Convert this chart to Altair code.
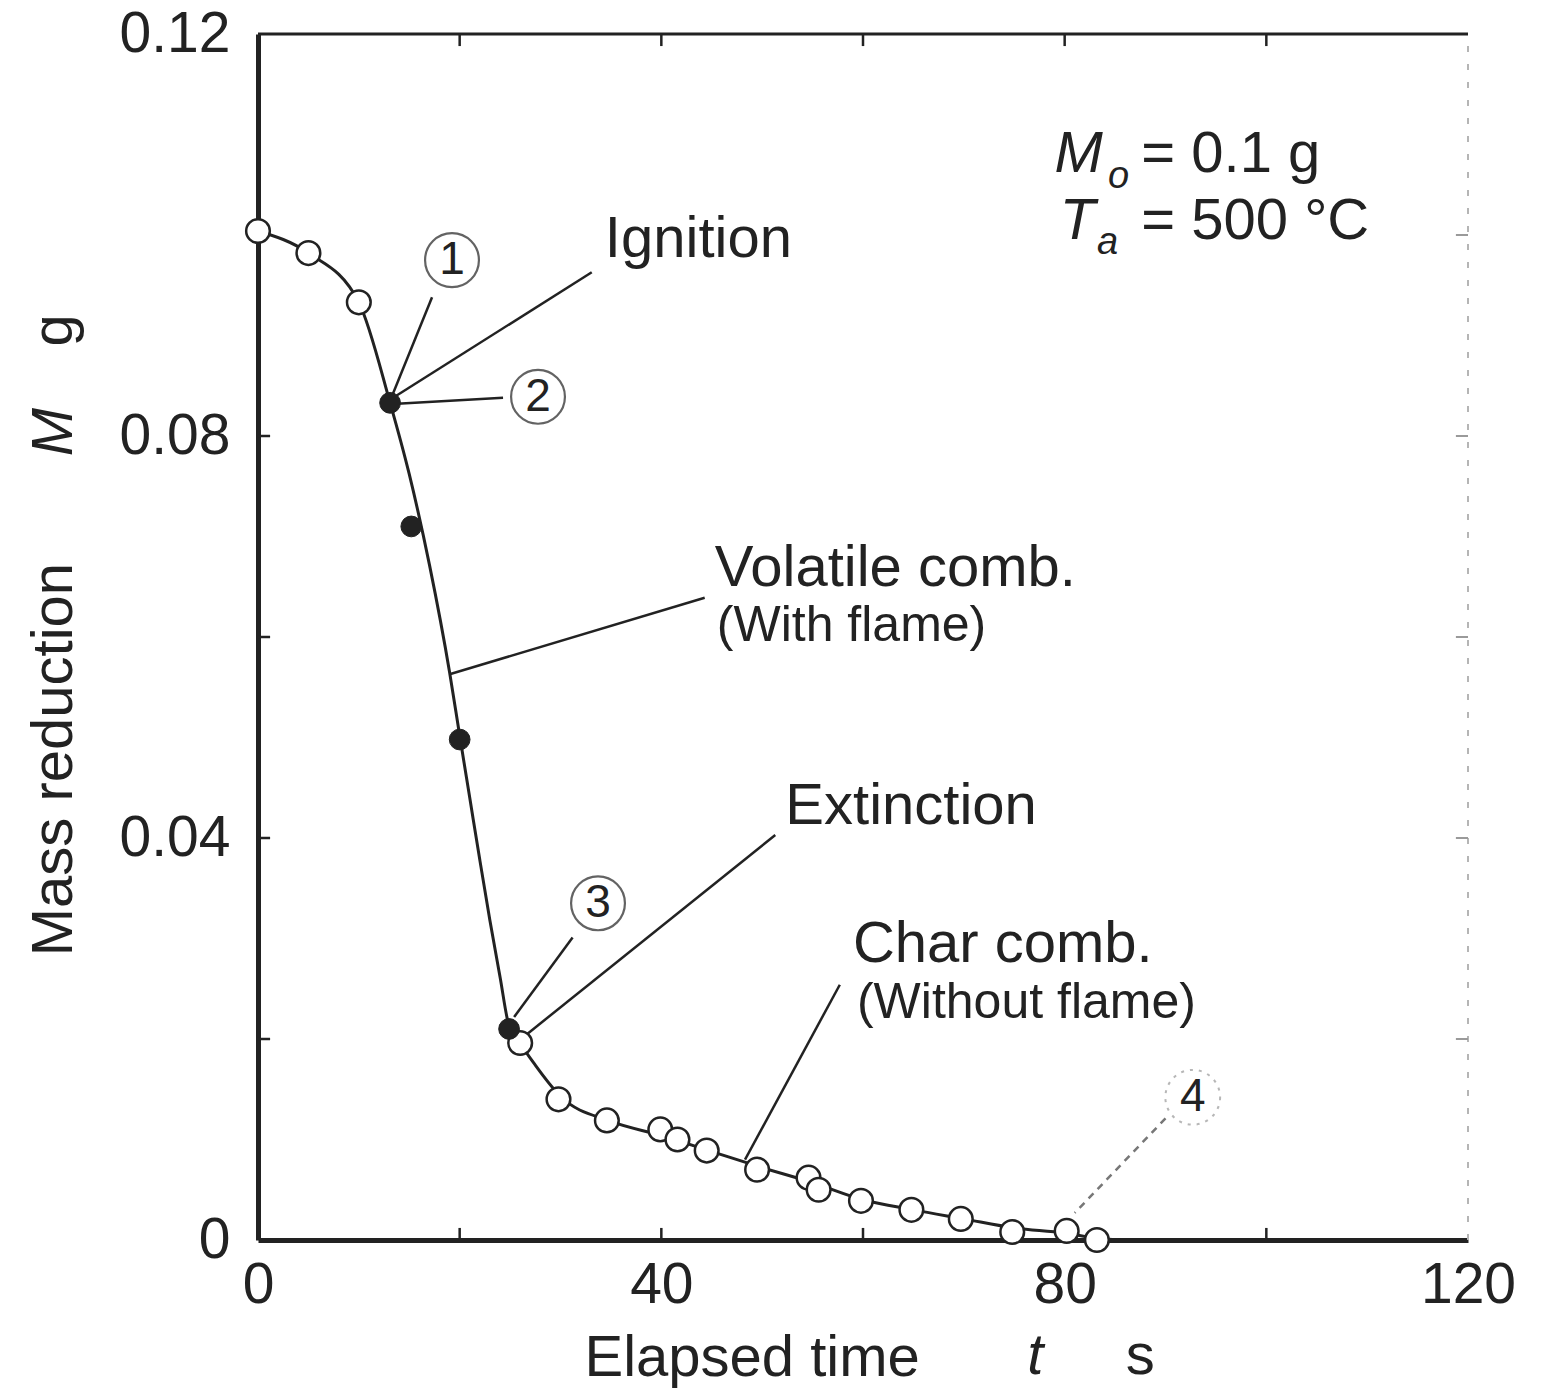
import altair as alt
import pandas as pd

FONT = "Liberation Sans"
INK = "#222222"

# Measured mass reduction M (g) against elapsed time t (s)
open_t = [0, 5, 10, 26.0, 29.8, 34.6, 39.9, 41.6, 44.5, 49.5, 54.6, 55.6,
          59.8, 64.8, 69.7, 74.8, 80.2, 83.2]
open_m = [0.1004, 0.0982, 0.0933, 0.0196, 0.0140, 0.0119, 0.0110, 0.0100,
          0.0089, 0.0070, 0.0062, 0.0050, 0.0039, 0.0030, 0.0021, 0.0008,
          0.0009, 0.0000]

# Samples taken while the flame is present
filled_t = [13.1, 15.2, 20.0, 24.9]
filled_m = [0.0833, 0.0710, 0.0498, 0.0210]

# Smoothed curve through the measurements
curve_t = [0, 5, 10, 13.1, 15, 17, 19, 20, 21, 22, 23, 24, 24.9, 25.6,
           26.0, 27.5, 30, 35, 40, 45, 50, 55, 60, 65, 70, 75, 80, 83, 85.5]
curve_m = [0.1004, 0.0982, 0.0933, 0.0833, 0.0762, 0.0672, 0.0565, 0.0502,
           0.0440, 0.0378, 0.0318, 0.0262, 0.0213, 0.0203, 0.0196, 0.0174,
           0.0143, 0.0118, 0.0104, 0.0088, 0.0072, 0.0057, 0.0040, 0.0030,
           0.0021, 0.0012, 0.0007, 0.0002, 0.0]

x_labels = [0, 40, 80, 120]
y_labels = [0, 0.04, 0.08, 0.12]
x_minor = [20, 40, 60, 80, 100]
y_minor = [0.02, 0.04, 0.06, 0.08, 0.10]

# Annotation texts and where they sit (t, M)
main_notes = ["Ignition", "Volatile comb.", "Extinction", "Char comb."]
main_notes_t = [34.4, 45.3, 52.3, 59.0]
main_notes_m = [0.0995, 0.0668, 0.0431, 0.0294]
sub_notes = ["(With flame)", "(Without flame)"]
sub_notes_t = [45.5, 59.4]
sub_notes_m = [0.0611, 0.0236]

stage_numbers = ["1", "2", "3"]
stage_t = [19.24, 27.77, 33.72]
stage_m = [0.0975, 0.0839, 0.0335]
stage4_t = [92.7]
stage4_m = [0.0142]

# Leader lines: start (t, M) -> end (t, M)
lead_t0 = [17.26, 33.1, 24.3, 44.3, 31.2, 51.3, 57.7]
lead_m0 = [0.0938, 0.0963, 0.0838, 0.0639, 0.0301, 0.0403, 0.0254]
lead_t1 = [13.3, 13.4, 13.8, 19.0, 25.4, 26.7, 48.3]
lead_m1 = [0.0840, 0.0838, 0.0832, 0.0563, 0.0222, 0.0205, 0.0080]
dash_t0, dash_m0, dash_t1, dash_m1 = [90.0], [0.0121], [81.0], [0.0027]

xs = alt.Scale(domain=[0, 120], nice=False, zero=False)
ys = alt.Scale(domain=[0, 0.12], nice=False, zero=False)

xaxis = alt.Axis(values=x_labels, title=None, ticks=False, grid=False,
                 domainWidth=5, domainColor=INK, labelFont=FONT,
                 labelFontSize=57, labelColor=INK, labelPadding=17,
                 labelFlush=False)
yaxis = alt.Axis(values=y_labels, title=None, ticks=False, grid=False,
                 domainWidth=5, domainColor=INK, labelFont=FONT,
                 labelFontSize=57, labelColor=INK, labelPadding=28,
                 labelFlush=False,
                 labelExpr="datum.value == 0 ? '0' : format(datum.value, '.2f')")


def X(field="t"):
    return alt.X(f"{field}:Q", scale=xs, axis=xaxis)


def Y(field="m"):
    return alt.Y(f"{field}:Q", scale=ys, axis=yaxis)


def text_layer(labels, ts, ms, size, style="normal", align="left", angle=0):
    df = pd.DataFrame({"t": ts, "m": ms, "label": labels})
    return alt.Chart(df).mark_text(
        font=FONT, fontSize=size, fontStyle=style, align=align,
        baseline="middle", angle=angle, color=INK
    ).encode(x=X(), y=Y(), text="label:N")


def rule_layer(t0, m0, t1, m1, width=2.5, color=INK, dash=None):
    df = pd.DataFrame({"t": t0, "m": m0, "t2": t1, "m2": m1})
    kw = dict(color=color, strokeWidth=width)
    if dash:
        kw["strokeDash"] = dash
    return alt.Chart(df).mark_rule(**kw).encode(
        x=X(), y=Y(), x2="t2:Q", y2="m2:Q")


curve = alt.Chart(pd.DataFrame({"t": curve_t, "m": curve_m})).mark_line(
    interpolate="monotone", color=INK, strokeWidth=3
).encode(x=X(), y=Y())

open_pts = alt.Chart(pd.DataFrame({"t": open_t, "m": open_m})).mark_point(
    shape="circle", filled=True, fill="white", stroke=INK, strokeWidth=2.5,
    size=560, opacity=1
).encode(x=X(), y=Y())

filled_pts = alt.Chart(pd.DataFrame({"t": filled_t, "m": filled_m})).mark_point(
    shape="circle", filled=True, fill=INK, stroke=INK, strokeWidth=1,
    size=430, opacity=1
).encode(x=X(), y=Y())

# Frame: top edge, faint right edge, inward ticks on all sides
top_edge = rule_layer([0], [0.12], [120], [0.12], width=3)
right_edge = rule_layer([120], [0], [120], [0.12], width=2, color="#b5b5b5",
                        dash=[6, 12])
left_ticks = rule_layer([0] * 5, y_minor, [1.2] * 5, y_minor, width=2.5)
right_ticks = rule_layer([120] * 5, y_minor, [118.8] * 5, y_minor, width=2,
                         color="#9a9a9a")
bottom_ticks = rule_layer(x_minor, [0] * 5, x_minor, [0.0012] * 5, width=2.5)
top_ticks = rule_layer(x_minor, [0.12] * 5, x_minor, [0.1188] * 5, width=2.5)

leaders = rule_layer(lead_t0, lead_m0, lead_t1, lead_m1, width=2.5)
leader4 = rule_layer(dash_t0, dash_m0, dash_t1, dash_m1, width=2.5,
                     color="#777777", dash=[7, 6])

rings = alt.Chart(pd.DataFrame({"t": stage_t, "m": stage_m})).mark_point(
    shape="circle", filled=False, stroke=INK, strokeWidth=2.2, size=2900
).encode(x=X(), y=Y())
ring4 = alt.Chart(pd.DataFrame({"t": stage4_t, "m": stage4_m})).mark_point(
    shape="circle", filled=False, stroke="#999999", strokeWidth=2,
    strokeDash=[3, 6], size=3000
).encode(x=X(), y=Y())

stage_txt = text_layer(stage_numbers, stage_t, stage_m, 46, align="center")
stage4_txt = text_layer(["4"], stage4_t, stage4_m, 46, align="center")

notes = text_layer(main_notes, main_notes_t, main_notes_m, 58)
subnotes = text_layer(sub_notes, sub_notes_t, sub_notes_m, 50)

# Experimental conditions
cond_sym = text_layer(["M", "T"], [79.0, 79.5], [0.1080, 0.1013], 58, "italic")
cond_sub = text_layer(["o", "a"], [84.3, 83.2], [0.1058, 0.0992], 38, "italic")
cond_val = text_layer(["= 0.1 g", "= 500 °C"], [87.6, 87.6],
                      [0.1080, 0.1013], 58)

# Axis titles with italic quantity symbols
x_title = text_layer(["Elapsed time"], [49.0], [-0.0118], 58, align="center")
x_sym = text_layer(["t"], [77.1], [-0.0116], 58, "italic", align="center")
x_unit = text_layer(["s"], [87.5], [-0.0116], 58, align="center")
y_title = text_layer(["Mass reduction"], [-20.1], [0.0478], 58,
                     align="center", angle=270)
y_sym = text_layer(["M"], [-20.1], [0.0804], 58, "italic", align="center",
                   angle=270)
y_unit = text_layer(["g"], [-20.1], [0.0905], 58, align="center", angle=270)

chart = alt.layer(
    curve, top_edge, right_edge, left_ticks, right_ticks, bottom_ticks,
    top_ticks, leaders, leader4, open_pts, filled_pts, rings, ring4,
    stage_txt, stage4_txt, notes, subnotes, cond_sym, cond_sub, cond_val,
    x_title, x_sym, x_unit, y_title, y_sym, y_unit
).properties(
    width=1210, height=1206,
    padding={"left": 258, "top": 34, "right": 85, "bottom": 156},
    autosize=alt.AutoSizeParams(type="none"),
    background="white",
).configure_view(stroke=None)

chart.save("out.html", embed_options={"renderer": "svg", "actions": False})
